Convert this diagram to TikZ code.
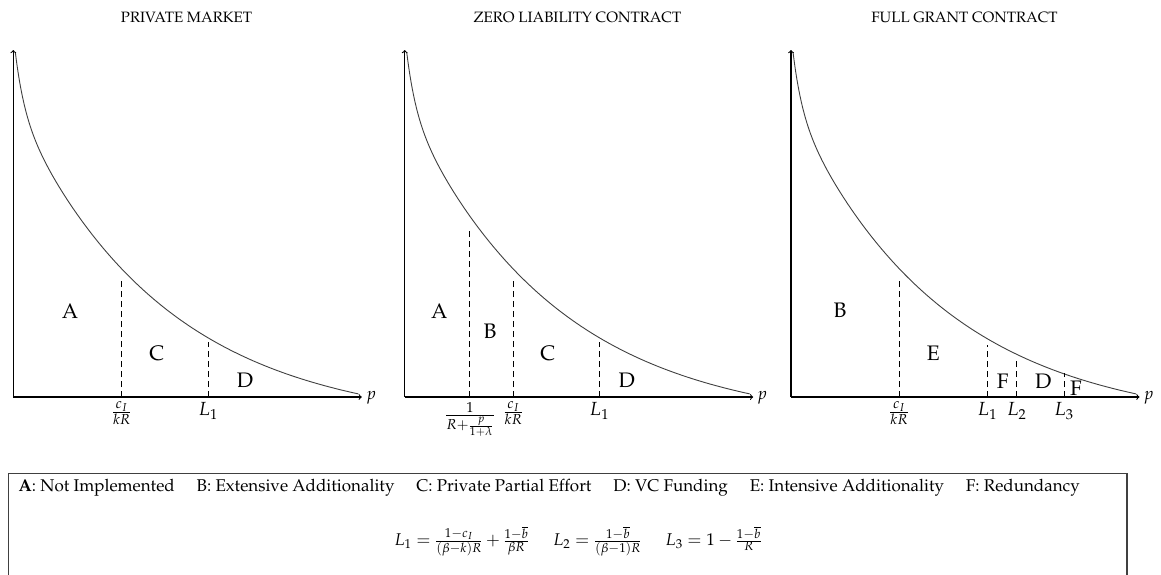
\documentclass[tikz,border=0pt]{standalone}
\usepackage[T1]{fontenc}
\usepackage{mathpazo}
\usetikzlibrary{calc}
\begin{document}
\begin{tikzpicture}[x=1pt,y=-1pt,
  axisline/.style={line width=1.1pt,-to},
  curveline/.style={line width=0.9pt,black!75},
  dashline/.style={line width=1pt,dash pattern=on 6pt off 4pt},
  lbl/.style={font=\fontsize{21}{24}\selectfont,inner sep=0pt},
  tick/.style={font=\fontsize{19}{22}\selectfont,anchor=north,inner sep=0pt},
  plab/.style={font=\fontsize{17}{20}\selectfont,anchor=base west,inner sep=0pt},
  ttl/.style={font=\fontsize{15}{18}\selectfont,inner sep=0pt},
  leg/.style={font=\fontsize{17}{20}\selectfont,anchor=base west,inner sep=0pt},
  boxline/.style={line width=1.1pt,black!75}
]
\useasboundingbox (0,0) rectangle (1161,574);

% axes and curves
\foreach \ox in {13.3,404.7,791}{
  \begin{scope}[shift={(\ox,397)},yscale=-1]
    \coordinate (o) at (0,0);
    \coordinate (xe) at (348.5,0);
    \coordinate (ye) at (0,347);
    \draw[curveline] plot[domain=2:345,samples=200,smooth] (\x,{324.5*exp(-\x/150)-29.4+54*exp(-(\x-2)/9)});
    \draw[axisline] (o) -- (xe);
    \draw[axisline] (o) -- (ye);
  \end{scope}
}

% dashed boundaries
\draw[dashline] (121.7,397) -- (121.7,278);
\draw[dashline] (208.3,397) -- (208.3,341.7);
\draw[dashline] (469.3,397) -- (469.3,228.3);
\draw[dashline] (513.3,397) -- (513.3,279.3);
\draw[dashline] (599.3,397) -- (599.3,341.7);
\draw[dashline] (899,397) -- (899,279.3);
\draw[dashline] (987.3,397) -- (987.3,345);
\draw[dashline] (1016.7,397) -- (1016.7,360.7);
\draw[dashline] (1064,397) -- (1064,373.3);

% titles
\node[ttl] (t1) at (186.5,17) {PRIVATE MARKET};
\node[ttl] (t2) at (577.5,17.5) {ZERO LIABILITY CONTRACT};
\node[ttl] (t3) at (964.5,17.5) {FULL GRANT CONTRACT};

% region labels
\node[lbl] (a1) at (70,311.7) {A};
\node[lbl] (c1) at (156.7,353.3) {C};
\node[lbl] (d1) at (245,380) {D};
\node[lbl] (a2) at (439.3,311.7) {A};
\node[lbl] (b2) at (490,331.7) {B};
\node[lbl] (c2) at (547.7,353.3) {C};
\node[lbl] (d2) at (626.7,380) {D};
\node[lbl] (b3) at (840,310.7) {B};
\node[lbl] (e3) at (933.3,353.3) {E};
\node[lbl] (f3) at (1002.7,381.7) {F};
\node[lbl] (d3) at (1043.3,381.7) {D};
\node[lbl] (g3) at (1076,388.3) {F};

% tick labels
\node[tick] (k1) at (121.7,401.5) {$\frac{c_I}{kR}$};
\node[tick] (m1) at (208.3,402.5) {$L_1$};
\node[tick] (z2) at (470,402.5) {$\frac{1}{R+\frac{p}{1+\lambda}}$};
\node[tick] (k2) at (513.3,401.5) {$\frac{c_I}{kR}$};
\node[tick] (m2) at (599.3,402.5) {$L_1$};
\node[tick] (k3) at (899,401.5) {$\frac{c_I}{kR}$};
\node[tick] (m3) at (987.3,402.5) {$L_1$};
\node[tick] (n3) at (1016.7,402.5) {$L_2$};
\node[tick] (q3) at (1064,402.5) {$L_3$};

% axis labels
\node[plab] (p1) at (366,399) {$p$};
\node[plab] (p2) at (757,399) {$p$};
\node[plab] (p3) at (1143.5,399) {$p$};

% legend box
\draw[boxline] (8.3,473.5) rectangle (1127,600);
\node[leg] (la) at (18.5,491.7) {\textbf{A}: Not Implemented};
\node[leg] (lb) at ($(la.base east)+(21.5,0)$) {B: Extensive Additionality};
\node[leg] (lc) at ($(lb.base east)+(21.5,0)$) {C: Private Partial Effort};
\node[leg] (ld) at ($(lc.base east)+(21.5,0)$) {D: VC Funding};
\node[leg] (le) at ($(ld.base east)+(21.5,0)$) {E: Intensive Additionality};
\node[leg] (lf) at ($(le.base east)+(21.5,0)$) {F: Redundancy};
\node[font=\fontsize{17}{20}\selectfont,inner sep=0pt] (form) at (578,541)
  {$L_1 = \frac{1-c_I}{(\beta-k)R} + \frac{1-\overline{b}}{\beta R}\hspace{1.4em}L_2 = \frac{1-\overline{b}}{(\beta-1)R}\hspace{1.4em}L_3 = 1 - \frac{1-\overline{b}}{R}$};
\end{tikzpicture}
\end{document}
